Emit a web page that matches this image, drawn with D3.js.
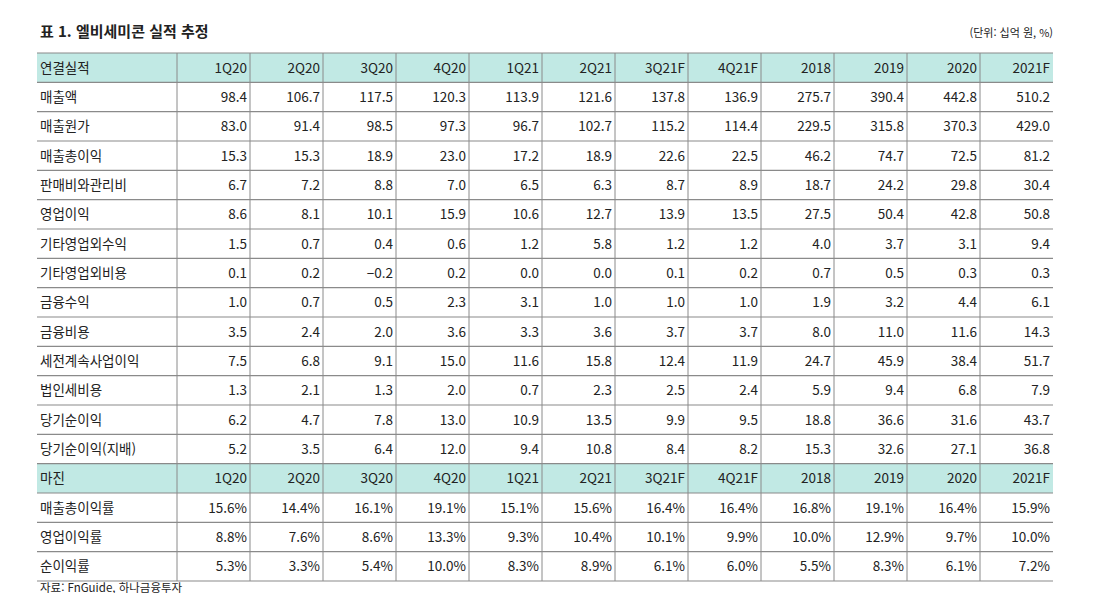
<!DOCTYPE html>
<html lang="ko">
<head>
<meta charset="UTF-8">
<script src="https://d3js.org/d3.v7.min.js"></script>
<style>
  body { margin: 0; background: #fff; }
  text { font-family: "Noto Sans CJK KR", "Noto Sans", sans-serif; fill: #222; }
</style>
</head>
<body>
<svg id="chart" width="1093" height="593"></svg>
<script>
const columns = ["1Q20","2Q20","3Q20","4Q20","1Q21","2Q21","3Q21F","4Q21F","2018","2019","2020","2021F"];
const rowLabels = ["매출액","매출원가","매출총이익","판매비와관리비","영업이익","기타영업외수익","기타영업외비용","금융수익","금융비용","세전계속사업이익","법인세비용","당기순이익","당기순이익(지배)"];
const values = [
  [98.4,106.7,117.5,120.3,113.9,121.6,137.8,136.9,275.7,390.4,442.8,510.2],
  [83.0,91.4,98.5,97.3,96.7,102.7,115.2,114.4,229.5,315.8,370.3,429.0],
  [15.3,15.3,18.9,23.0,17.2,18.9,22.6,22.5,46.2,74.7,72.5,81.2],
  [6.7,7.2,8.8,7.0,6.5,6.3,8.7,8.9,18.7,24.2,29.8,30.4],
  [8.6,8.1,10.1,15.9,10.6,12.7,13.9,13.5,27.5,50.4,42.8,50.8],
  [1.5,0.7,0.4,0.6,1.2,5.8,1.2,1.2,4.0,3.7,3.1,9.4],
  [0.1,0.2,-0.2,0.2,0.0,0.0,0.1,0.2,0.7,0.5,0.3,0.3],
  [1.0,0.7,0.5,2.3,3.1,1.0,1.0,1.0,1.9,3.2,4.4,6.1],
  [3.5,2.4,2.0,3.6,3.3,3.6,3.7,3.7,8.0,11.0,11.6,14.3],
  [7.5,6.8,9.1,15.0,11.6,15.8,12.4,11.9,24.7,45.9,38.4,51.7],
  [1.3,2.1,1.3,2.0,0.7,2.3,2.5,2.4,5.9,9.4,6.8,7.9],
  [6.2,4.7,7.8,13.0,10.9,13.5,9.9,9.5,18.8,36.6,31.6,43.7],
  [5.2,3.5,6.4,12.0,9.4,10.8,8.4,8.2,15.3,32.6,27.1,36.8]
];
const marginLabels = ["매출총이익률","영업이익률","순이익률"];
const marginValues = [
  [15.6,14.4,16.1,19.1,15.1,15.6,16.4,16.4,16.8,19.1,16.4,15.9],
  [8.8,7.6,8.6,13.3,9.3,10.4,10.1,9.9,10.0,12.9,9.7,10.0],
  [5.3,3.3,5.4,10.0,8.3,8.9,6.1,6.0,5.5,8.3,6.1,7.2]
];

const svg = d3.select("#chart");
const fmt = d3.format(".1f");

// rows: header, 13 data, header, 3 margin
const rows = [{type:"head", label:"연결실적", cells: columns}]
  .concat(rowLabels.map((l,i) => ({type:"data", label:l, cells: values[i].map(fmt)})))
  .concat([{type:"head", label:"마진", cells: columns}])
  .concat(marginLabels.map((l,i) => ({type:"data", label:l, cells: marginValues[i].map(v => fmt(v) + "%")})));

const tLeft = 37, labelW = 140, tRight = 1053, tTop = 53, tBottom = 581;
const x = d3.scaleBand().domain(columns).range([tLeft + labelW, tRight]);
const y = d3.scaleBand().domain(d3.range(rows.length)).range([tTop, tBottom]);

svg.append("text").attr("x", 40).attr("y", 37).attr("font-size", 15).attr("font-weight", "bold")
  .text("표 1. 엘비세미콘 실적 추정");
svg.append("text").attr("x", 1053).attr("y", 37).attr("font-size", 11).attr("text-anchor", "end")
  .text("(단위: 십억 원, %)");

const g = svg.selectAll(".row").data(rows).enter().append("g")
  .attr("transform", (d,i) => `translate(0,${y(i)})`);

g.filter(d => d.type === "head").append("rect")
  .attr("x", tLeft).attr("width", tRight - tLeft).attr("height", y.bandwidth()).attr("fill", "#c1e9e4");

g.append("text").attr("x", tLeft + 3).attr("y", y.bandwidth()/2 + 5).attr("font-size", 13.5)
  .text(d => d.label);

g.selectAll(".cell").data(d => d.cells).enter().append("text")
  .attr("x", (d,i) => x(columns[i]) + x.bandwidth() - 3)
  .attr("y", y.bandwidth()/2 + 5).attr("font-size", 13.5).attr("text-anchor", "end")
  .text(d => d);

// grid lines
const lineY = d3.range(rows.length + 1).map(i => i < rows.length ? y(i) : tBottom);
svg.selectAll(".hl").data(lineY).enter().append("line")
  .attr("x1", tLeft).attr("x2", tRight).attr("y1", d => d).attr("y2", d => d)
  .attr("stroke", "#8a8a8a").attr("stroke-width", 1.2);
const lineX = [tLeft + labelW].concat(columns.slice(1).map(c => x(c)));
svg.selectAll(".vl").data(lineX).enter().append("line")
  .attr("x1", d => d).attr("x2", d => d).attr("y1", tTop).attr("y2", tBottom)
  .attr("stroke", "#8a8a8a").attr("stroke-width", 1);

svg.append("text").attr("x", 40).attr("y", 592).attr("font-size", 11.5)
  .text("자료: FnGuide, 하나금융투자");
</script>
</body>
</html>
